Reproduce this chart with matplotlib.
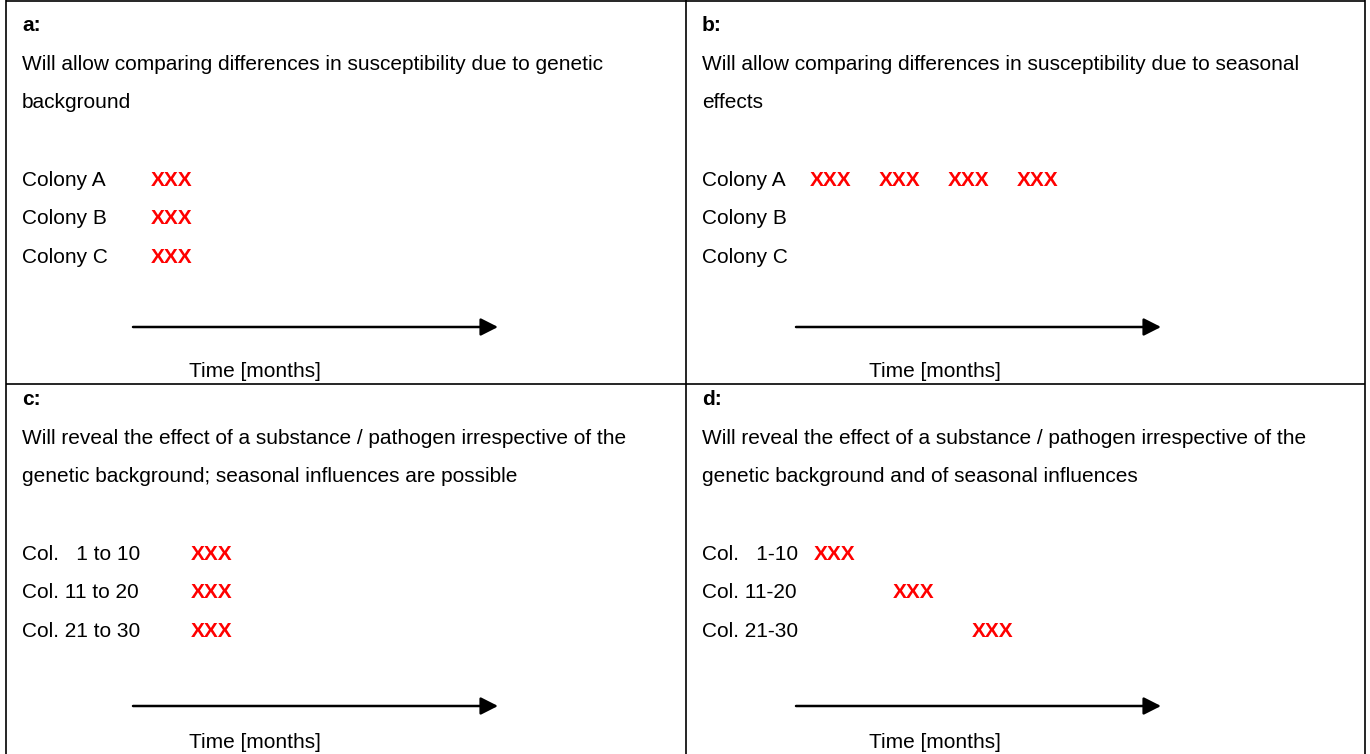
import matplotlib
matplotlib.use("Agg")
import matplotlib.pyplot as plt

# ---------------------------------------------------------------------------
# content of the four table cells
panel_letters = ["a:", "b:", "c:", "d:"]
panel_text = [
    ["Will allow comparing differences in susceptibility due to genetic",
     "background"],
    ["Will allow comparing differences in susceptibility due to seasonal",
     "effects"],
    ["Will reveal the effect of a substance / pathogen irrespective of the",
     "genetic background; seasonal influences are possible"],
    ["Will reveal the effect of a substance / pathogen irrespective of the",
     "genetic background and of seasonal influences"],
]
row_labels = [
    ["Colony A", "Colony B", "Colony C"],
    ["Colony A", "Colony B", "Colony C"],
    ["Col.   1 to 10", "Col. 11 to 20", "Col. 21 to 30"],
    ["Col.   1-10", "Col. 11-20", "Col. 21-30"],
]
# (row index, sampling slot) of every XXX mark
samples = [
    [(0, 0), (1, 0), (2, 0)],
    [(0, 0), (0, 1), (0, 2), (0, 3)],
    [(0, 0), (1, 0), (2, 0)],
    [(0, 0), (1, 1), (2, 2)],
]
time_label = "Time [months]"

# ---------------------------------------------------------------------------
# layout in pixels
W, H = 1370, 754
col_x = [6.5, 686.5, 1365.5]
row_y = [0.5, 383.5]
cell_x = [0, 680, 0, 680]
cell_y = [0, 0, 374, 374]
slot_start = [151, 810, 191, 814]
slot_step = [0, 69, 0, 79]
arrow_x = [(133, 498), (796, 1161), (133, 498), (796, 1161)]

plt.rcParams["font.family"] = ["Liberation Sans", "DejaVu Sans"]
fs = 15

fig = plt.figure(figsize=(W / 100, H / 100), dpi=100)
ax = fig.add_axes([0, 0, 1, 1])
ax.set_xlim(0, W)
ax.set_ylim(H, 0)
ax.axis("off")

# table grid
for x in col_x:
    ax.plot([x, x], [0, H], color="black", lw=1.2, solid_capstyle="butt")
for y in row_y:
    ax.plot([col_x[0], col_x[-1]], [y, y], color="black", lw=1.2, solid_capstyle="butt")

for i in range(4):
    x0, y0 = cell_x[i], cell_y[i]
    tx = 22 + x0
    ax.text(tx, y0 + 31, panel_letters[i], fontsize=fs, fontweight="bold",
            va="baseline", ha="left")
    for k, line in enumerate(panel_text[i]):
        ax.text(tx, y0 + 70 + 38 * k, line, fontsize=fs, va="baseline", ha="left")
    for k, lab in enumerate(row_labels[i]):
        ax.text(tx, y0 + 186 + 38.5 * k, lab, fontsize=fs, va="baseline", ha="left")
    for r, s in samples[i]:
        ax.text(slot_start[i] + slot_step[i] * s, y0 + 186 + 38.5 * r, "XXX",
                fontsize=fs, fontweight="bold", color="#ff0000",
                va="baseline", ha="left")
    xa, xb = arrow_x[i]
    ay = y0 + 327 + (5 if i >= 2 else 0)
    ax.annotate("", xy=(xb, ay), xytext=(xa, ay),
                arrowprops=dict(arrowstyle="-|>,head_length=0.75,head_width=0.38",
                                mutation_scale=14, lw=1.8, color="black",
                                shrinkA=0, shrinkB=0))
    ty = y0 + (377 if i < 2 else 374)
    ax.text(x0 + 189, ty, time_label, fontsize=fs, va="baseline", ha="left")

fig.savefig("out.png", dpi=100, facecolor="white")
